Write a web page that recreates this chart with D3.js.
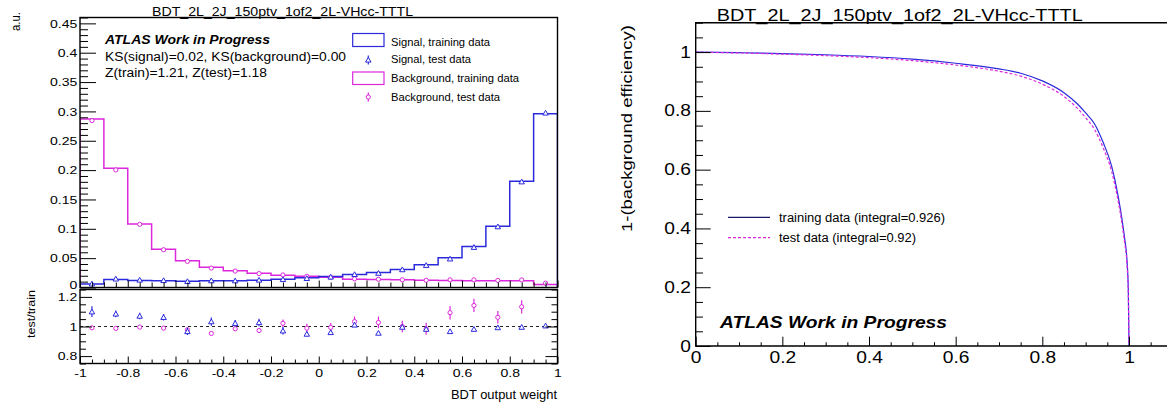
<!DOCTYPE html>
<html>
<head>
<meta charset="utf-8">
<script src="https://cdn.jsdelivr.net/npm/d3@7"></script>
<style>
  body { margin: 0; background: #fff; }
  svg { display: block; }
  text { font-family: "Liberation Sans", Arial, Helvetica, sans-serif; fill: #000; }
</style>
</head>
<body>
<svg id="chart" width="1167" height="404"></svg>
<script>
// ---- BDT output distributions (20 bins from -1 to 1) ----
const binLow = [-1.0, -0.9, -0.8, -0.7, -0.6, -0.5, -0.4, -0.3, -0.2, -0.1,
                 0.0,  0.1,  0.2,  0.3,  0.4,  0.5,  0.6,  0.7,  0.8,  0.9];
const binWidth = 0.1;

const sigTrain = [0.0058, 0.0136, 0.0120, 0.0114, 0.0108, 0.0114, 0.0114, 0.0125, 0.0142, 0.0165,
                  0.0188, 0.0222, 0.0256, 0.0307, 0.0386, 0.0506, 0.0699, 0.1045, 0.1810, 0.2960];
const sigTest  = [0.00638, 0.01476, 0.01285, 0.01211, 0.01044, 0.01178, 0.01165, 0.01284, 0.01379, 0.01566,
                  0.01805, 0.02244, 0.02447, 0.03058, 0.03791, 0.04893, 0.06864, 0.10377, 0.18028, 0.29748];
const sigTestErr = [0.00021, 0.00030, 0.00026, 0.00025, 0.00026, 0.00032, 0.00025, 0.00031, 0.00036, 0.00025,
                    0.00028, 0.00033, 0.00031, 0.00031, 0.00039, 0.00040, 0.00049, 0.00052, 0.00072, 0.00089];

const bkgTrain = [0.2870, 0.2030, 0.1080, 0.0650, 0.0455, 0.0347, 0.0284, 0.0244, 0.0210, 0.0193,
                  0.0176, 0.0142, 0.0136, 0.0131, 0.0125, 0.0119, 0.0114, 0.0114, 0.0114, 0.0051];
const bkgTest  = [0.28442, 0.20036, 0.10757, 0.06429, 0.04450, 0.03307, 0.02797, 0.02374, 0.02146, 0.01909,
                  0.01749, 0.01467, 0.01397, 0.01310, 0.01231, 0.01301, 0.01302, 0.01211, 0.01292, 0.00740];
const bkgTestErr = [0.00115, 0.00081, 0.00065, 0.00052, 0.00046, 0.00042, 0.00034, 0.00037, 0.00053, 0.00058,
                    0.00053, 0.00050, 0.00054, 0.00052, 0.00050, 0.00054, 0.00051, 0.00048, 0.00051, 0.00041];

// ---- ROC curve: signal efficiency vs 1 - background efficiency ----
const rocSigEff    = [0, 0.1, 0.2, 0.3, 0.4, 0.5, 0.6, 0.7, 0.75, 0.8, 0.85, 0.88, 0.9, 0.92, 0.94, 0.96, 0.975, 0.985, 0.99, 0.995, 0.9985, 1.0];
const rocTrainRej  = [1.0, 0.998, 0.995, 0.991, 0.985, 0.976, 0.962, 0.943, 0.928, 0.902, 0.862, 0.825, 0.793, 0.757, 0.694, 0.612, 0.510, 0.420, 0.366, 0.300, 0.190, 0.0];
const rocTestRej   = [1.0, 0.997, 0.993, 0.988, 0.981, 0.971, 0.956, 0.935, 0.918, 0.891, 0.849, 0.810, 0.777, 0.738, 0.676, 0.594, 0.494, 0.405, 0.352, 0.288, 0.180, 0.0];

// ---- Axis tick values ----
const topYMajor   = [0, 0.05, 0.1, 0.15, 0.2, 0.25, 0.3, 0.35, 0.4, 0.45];
const bdtXMajor   = [-1, -0.8, -0.6, -0.4, -0.2, 0, 0.2, 0.4, 0.6, 0.8, 1];
const ratioYMajor = [0.8, 1, 1.2];
const rocMajor    = [0, 0.2, 0.4, 0.6, 0.8, 1];

const title = "BDT_2L_2J_150ptv_1of2_2L-VHcc-TTTL";

const BLUE = "#2a2adc", MAGENTA = "#dc28dc";
const STRETCH = 1.2;   // labels are drawn slightly wide

const svg = d3.select("#chart");
const fmt = d => String(+(+d).toFixed(3));

// scales
const xTop   = d3.scaleLinear().domain([-1, 1]).range([80, 557.5]);
const yTop   = d3.scaleLinear().domain([0, 0.46]).range([287.5, 17.5]);
const yRatio = d3.scaleLinear().domain([0.75, 1.25]).range([363.5, 289.5]);
const xRoc   = d3.scaleLinear().domain([0, 1.1]).range([695.7, 1172.3]);
const yRoc   = d3.scaleLinear().domain([0, 1.1]).range([346, 22.7]);

function minorTicks(lo, hi, step, majors) {
  const out = [];
  for (let v = lo; v <= hi + 1e-9; v += step) {
    const r = +v.toFixed(4);
    if (!majors.some(m => Math.abs(m - r) < 1e-6)) out.push(r);
  }
  return out;
}

function addText(parent, x, y, str, size, len, opts = {}) {
  const t = parent.append("text")
    .attr("x", x).attr("y", y)
    .attr("font-size", size)
    .attr("text-anchor", opts.anchor || "start")
    .text(str);
  if (len) t.attr("textLength", len).attr("lengthAdjust", "spacingAndGlyphs");
  if (opts.bold) t.attr("font-weight", "bold");
  if (opts.italic) t.attr("font-style", "italic");
  if (opts.rotate) t.attr("transform", `rotate(-90,${x},${y})`);
  return t;
}

function drawAxis(axisFn, scale, pos, majors, minors, majLen, minLen, opts = {}) {
  const gMaj = svg.append("g").attr("transform", pos);
  gMaj.call(axisFn(scale).tickValues(majors).tickSizeInner(-majLen).tickSizeOuter(0)
    .tickPadding(opts.pad || 3).tickFormat(opts.labelSize ? fmt : () => ""));
  const gMin = svg.append("g").attr("transform", pos);
  gMin.call(axisFn(scale).tickValues(minors).tickSizeInner(-minLen).tickSizeOuter(0).tickFormat(() => ""));
  [gMaj, gMin].forEach(g => {
    g.select(".domain").remove();
    g.selectAll("line").attr("stroke", "#000").attr("stroke-width", 1);
    g.selectAll("text").filter(function () { return !this.textContent; }).remove();
  });
  if (opts.labelSize) {
    gMaj.selectAll("text")
      .attr("font-size", opts.labelSize)
      .attr("font-family", '"Liberation Sans", Arial, sans-serif')
      .attr("fill", "#000")
      .each(function (d) {
        const t = d3.select(this);
        const x = +t.attr("x") || 0;
        t.attr("x", x / STRETCH).attr("transform", `scale(${STRETCH},1)`);
        if (opts.lift && d === opts.lift.value) t.attr("y", -opts.lift.by);
      });
  }
  return gMaj;
}

// ===================== Left: BDT response =====================
svg.append("clipPath").attr("id", "clipTop")
  .append("rect").attr("x", 80).attr("y", 17.5).attr("width", 477.5).attr("height", 270);
svg.append("clipPath").attr("id", "clipRatio")
  .append("rect").attr("x", 80).attr("y", 289.5).attr("width", 477.5).attr("height", 74);

function histPath(vals) {
  const n = vals.length;
  const pts = [[binLow[0], 0]];
  vals.forEach((v, i) => pts.push([binLow[i], v]));
  pts.push([binLow[n - 1] + binWidth, vals[n - 1]]);
  pts.push([binLow[n - 1] + binWidth, 0]);
  return d3.line().x(d => xTop(d[0])).y(d => yTop(d[1])).curve(d3.curveStepAfter)(pts);
}

const gTop = svg.append("g").attr("clip-path", "url(#clipTop)");
gTop.append("path").attr("d", histPath(bkgTrain)).attr("fill", "none")
  .attr("stroke", MAGENTA).attr("stroke-width", 1.5);
gTop.append("path").attr("d", histPath(sigTrain)).attr("fill", "none")
  .attr("stroke", BLUE).attr("stroke-width", 1.5);

const triangle = d3.symbol().type(d3.symbolTriangle).size(13);

function drawPoints(g, xs, vals, errs, yScale, color, kind) {
  const pts = xs.map((x, i) => ({ x, v: vals[i], e: errs[i] }));
  g.selectAll(null).data(pts).enter().append("line")
    .attr("x1", d => xTop(d.x)).attr("x2", d => xTop(d.x))
    .attr("y1", d => yScale(d.v - d.e)).attr("y2", d => yScale(d.v + d.e))
    .attr("stroke", color).attr("stroke-width", 1.2);
  if (kind === "tri") {
    g.selectAll(null).data(pts).enter().append("path")
      .attr("d", triangle)
      .attr("transform", d => `translate(${xTop(d.x)},${yScale(d.v) + 0.6})`)
      .attr("fill", "#fff").attr("stroke", color).attr("stroke-width", 1);
  } else {
    g.selectAll(null).data(pts).enter().append("circle")
      .attr("cx", d => xTop(d.x)).attr("cy", d => yScale(d.v)).attr("r", 2.1)
      .attr("fill", "#fff").attr("stroke", color).attr("stroke-width", 1);
  }
}

const centers = binLow.map(b => b + binWidth / 2);
drawPoints(gTop, centers, bkgTest, bkgTestErr, yTop, MAGENTA, "circ");
drawPoints(gTop, centers, sigTest, sigTestErr, yTop, BLUE, "tri");

// ratio panel
const gRatio = svg.append("g").attr("clip-path", "url(#clipRatio)");
gRatio.append("line")
  .attr("x1", xTop(-1)).attr("x2", xTop(1)).attr("y1", yRatio(1)).attr("y2", yRatio(1))
  .attr("stroke", "#222").attr("stroke-width", 1).attr("stroke-dasharray", "3,3");
const sigRatio = sigTest.map((v, i) => v / sigTrain[i]);
const sigRatioErr = sigTestErr.map((e, i) => e / sigTrain[i]);
const bkgRatio = bkgTest.map((v, i) => v / bkgTrain[i]);
const bkgRatioErr = bkgTestErr.map((e, i) => e / bkgTrain[i]);
drawPoints(gRatio, centers, bkgRatio, bkgRatioErr, yRatio, MAGENTA, "circ");
drawPoints(gRatio, centers, sigRatio, sigRatioErr, yRatio, BLUE, "tri");

// axes, top pad
drawAxis(d3.axisLeft, yTop, "translate(80,0)", topYMajor,
  minorTicks(0, 0.46, 0.01, topYMajor), 16, 8,
  { labelSize: 11.7, pad: 2.7, lift: { value: 0, by: 2.5 } });
drawAxis(d3.axisBottom, xTop, "translate(0,287.5)", bdtXMajor,
  minorTicks(-1, 1, 0.05, bdtXMajor), 7, 5, {});
// axes, ratio pad
drawAxis(d3.axisLeft, yRatio, "translate(80,0)", ratioYMajor,
  minorTicks(0.75, 1.25, 0.05, ratioYMajor), 12, 6, { labelSize: 11.7, pad: 2.7 });
drawAxis(d3.axisRight, yRatio, "translate(557.5,0)", ratioYMajor,
  minorTicks(0.75, 1.25, 0.05, ratioYMajor), 12, 6, {});
drawAxis(d3.axisBottom, xTop, "translate(0,363.5)", bdtXMajor,
  minorTicks(-1, 1, 0.05, bdtXMajor), 7, 4, { labelSize: 11.7, pad: 5 });

// frames
svg.append("rect").attr("x", 80).attr("y", 17.5).attr("width", 477.5).attr("height", 270)
  .attr("fill", "none").attr("stroke", "#000").attr("stroke-width", 1.4);
svg.append("rect").attr("x", 80).attr("y", 289.5).attr("width", 477.5).attr("height", 74)
  .attr("fill", "none").attr("stroke", "#000").attr("stroke-width", 1.4);

// texts, left
addText(svg, 152, 15.5, title, 12, 261);
addText(svg, 105, 44.3, "ATLAS Work in Progress", 12, 165, { bold: true, italic: true });
addText(svg, 105, 60.7, "KS(signal)=0.02, KS(background)=0.00", 12, 241);
addText(svg, 105, 77.3, "Z(train)=1.21, Z(test)=1.18", 12, 162);
addText(svg, 20, 12, "a.u.", 13, 19, { rotate: true, anchor: "end" });
addText(svg, 34.5, 290, "test/train", 11.5, 48, { rotate: true, anchor: "end" });
addText(svg, 557, 399, "BDT output weight", 12.5, 106, { anchor: "end" });

// legend, left
const legLeft = svg.append("g");
legLeft.append("rect").attr("x", 352.7).attr("y", 33.5).attr("width", 31.3).attr("height", 13)
  .attr("fill", "none").attr("stroke", BLUE).attr("stroke-width", 1.2);
legLeft.append("rect").attr("x", 352.7).attr("y", 72).attr("width", 31.3).attr("height", 12.5)
  .attr("fill", "none").attr("stroke", MAGENTA).attr("stroke-width", 1.2);
legLeft.append("line").attr("x1", 368.3).attr("x2", 368.3).attr("y1", 55.5).attr("y2", 64.5)
  .attr("stroke", BLUE).attr("stroke-width", 1.2);
legLeft.append("path").attr("d", triangle).attr("transform", "translate(368.3,60.5)")
  .attr("fill", "#fff").attr("stroke", BLUE).attr("stroke-width", 1);
legLeft.append("line").attr("x1", 368.3).attr("x2", 368.3).attr("y1", 92.5).attr("y2", 101.5)
  .attr("stroke", MAGENTA).attr("stroke-width", 1.2);
legLeft.append("circle").attr("cx", 368.3).attr("cy", 97).attr("r", 2.1)
  .attr("fill", "#fff").attr("stroke", MAGENTA).attr("stroke-width", 1);
addText(legLeft, 391, 45.5, "Signal, training data", 11.5, 99);
addText(legLeft, 391, 63, "Signal, test data", 11.5, 80);
addText(legLeft, 391, 81.5, "Background, training data", 11.5, 128);
addText(legLeft, 391, 100.5, "Background, test data", 11.5, 109);

// ===================== Right: ROC curve =====================
const rocLine = ys => d3.line().x((d, i) => xRoc(rocSigEff[i])).y(d => yRoc(d)).curve(d3.curveMonotoneX)(ys);
svg.append("path").attr("d", rocLine(rocTrainRej)).attr("fill", "none")
  .attr("stroke", BLUE).attr("stroke-width", 1.2);
svg.append("path").attr("d", rocLine(rocTestRej)).attr("fill", "none")
  .attr("stroke", MAGENTA).attr("stroke-width", 1.2).attr("stroke-dasharray", "3,2");

drawAxis(d3.axisLeft, yRoc, "translate(695.7,0)", rocMajor,
  minorTicks(0, 1.1, 0.05, rocMajor), 15, 7.3, { labelSize: 16, pad: 4.7 });
drawAxis(d3.axisBottom, xRoc, "translate(0,346)", rocMajor,
  minorTicks(0, 1.1, 0.05, rocMajor), 9.3, 3.7, { labelSize: 16, pad: 5.4 });

svg.append("path")
  .attr("d", `M1167,22.7H695.7V346H1167`)
  .attr("fill", "none").attr("stroke", "#000").attr("stroke-width", 1.4);

addText(svg, 716.7, 20.5, title, 16.5, 366);
addText(svg, 632, 25, "1-(background efficiency)", 15, 207, { rotate: true, anchor: "end" });
addText(svg, 720, 328.3, "ATLAS Work in Progress", 16.5, 227, { bold: true, italic: true });

const legRight = svg.append("g");
legRight.append("line").attr("x1", 728).attr("x2", 770).attr("y1", 217.3).attr("y2", 217.3)
  .attr("stroke", "#1a1a66").attr("stroke-width", 1.2);
legRight.append("line").attr("x1", 728).attr("x2", 770).attr("y1", 237.7).attr("y2", 237.7)
  .attr("stroke", MAGENTA).attr("stroke-width", 1.2).attr("stroke-dasharray", "3,2");
addText(legRight, 779, 222, "training data (integral=0.926)", 12.5, 166);
addText(legRight, 779, 242, "test data (integral=0.92)", 12.5, 137);
</script>
</body>
</html>
